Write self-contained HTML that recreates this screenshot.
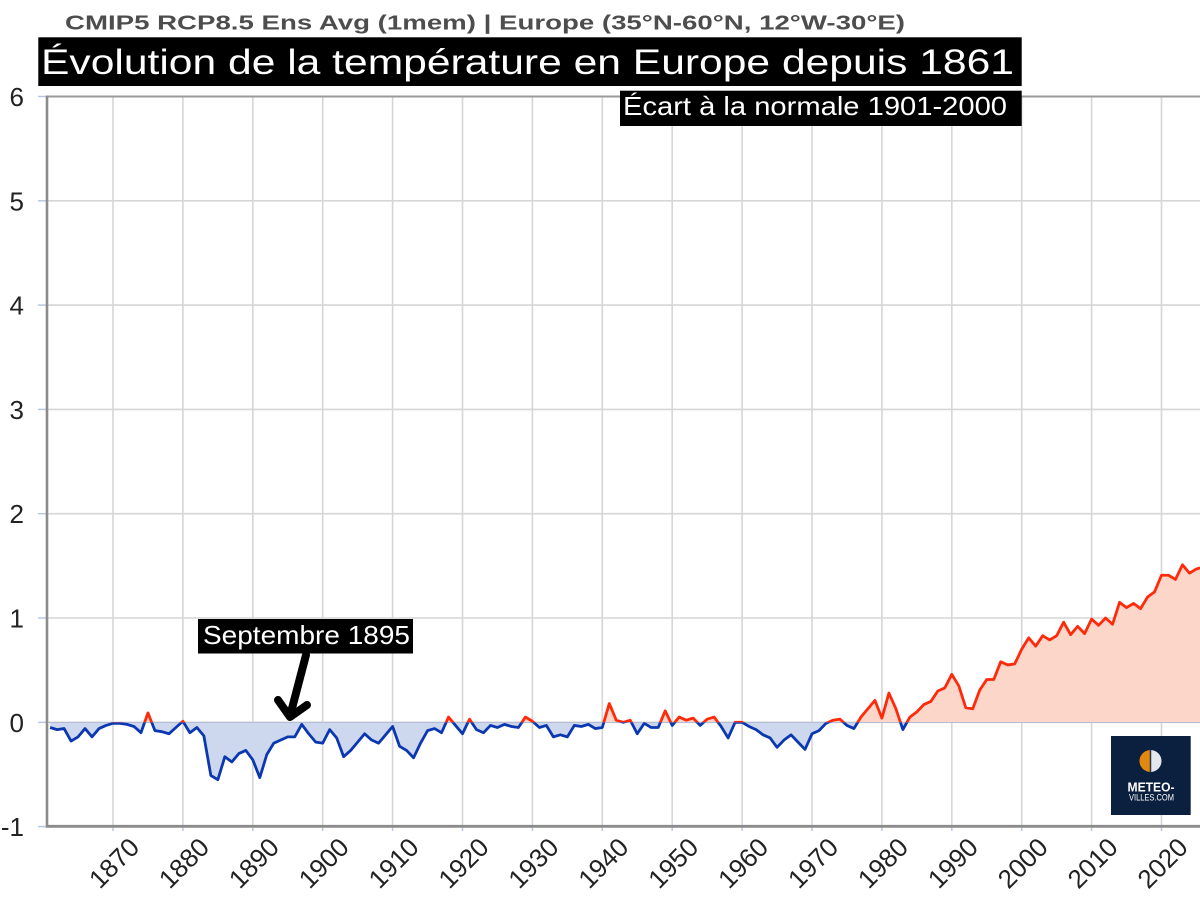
<!DOCTYPE html>
<html><head><meta charset="utf-8"><style>
html,body{margin:0;padding:0;background:#fff;}
svg{display:block;font-family:"Liberation Sans",Arial,sans-serif;}
</style></head><body>
<svg width="1200" height="909" viewBox="0 0 1200 909" xmlns="http://www.w3.org/2000/svg">
<defs>
<clipPath id="above"><rect x="0" y="0" width="1200" height="722.3"/></clipPath>
<clipPath id="below"><rect x="0" y="722.3" width="1200" height="187"/></clipPath>
<clipPath id="plot"><rect x="47" y="90" width="1153" height="740"/></clipPath>
</defs>
<rect width="1200" height="909" fill="#fff"/>
<!-- grid -->
<g stroke="#d6d6d6" stroke-width="1.6">
<line x1="113" y1="97" x2="113" y2="826"/><line x1="182.9" y1="97" x2="182.9" y2="826"/><line x1="252.8" y1="97" x2="252.8" y2="826"/><line x1="322.7" y1="97" x2="322.7" y2="826"/><line x1="392.6" y1="97" x2="392.6" y2="826"/><line x1="462.5" y1="97" x2="462.5" y2="826"/><line x1="532.4" y1="97" x2="532.4" y2="826"/><line x1="602.3" y1="97" x2="602.3" y2="826"/><line x1="672.2" y1="97" x2="672.2" y2="826"/><line x1="742.1" y1="97" x2="742.1" y2="826"/><line x1="812" y1="97" x2="812" y2="826"/><line x1="881.9" y1="97" x2="881.9" y2="826"/><line x1="951.8" y1="97" x2="951.8" y2="826"/><line x1="1021.7" y1="97" x2="1021.7" y2="826"/><line x1="1091.6" y1="97" x2="1091.6" y2="826"/><line x1="1161.5" y1="97" x2="1161.5" y2="826"/>
<line x1="47" y1="200.8" x2="1200" y2="200.8"/><line x1="47" y1="305.1" x2="1200" y2="305.1"/><line x1="47" y1="409.4" x2="1200" y2="409.4"/><line x1="47" y1="513.7" x2="1200" y2="513.7"/><line x1="47" y1="618" x2="1200" y2="618"/><line x1="47" y1="722.3" x2="1200" y2="722.3"/>
</g>
<!-- ticks -->
<g stroke="#b9c7e6" stroke-width="1.5">
<line x1="38" y1="96.5" x2="47" y2="96.5"/><line x1="38" y1="200.8" x2="47" y2="200.8"/><line x1="38" y1="305.1" x2="47" y2="305.1"/><line x1="38" y1="409.4" x2="47" y2="409.4"/><line x1="38" y1="513.7" x2="47" y2="513.7"/><line x1="38" y1="618" x2="47" y2="618"/><line x1="38" y1="722.3" x2="47" y2="722.3"/><line x1="38" y1="826.6" x2="47" y2="826.6"/>
<line x1="113" y1="826" x2="113" y2="831"/><line x1="182.9" y1="826" x2="182.9" y2="831"/><line x1="252.8" y1="826" x2="252.8" y2="831"/><line x1="322.7" y1="826" x2="322.7" y2="831"/><line x1="392.6" y1="826" x2="392.6" y2="831"/><line x1="462.5" y1="826" x2="462.5" y2="831"/><line x1="532.4" y1="826" x2="532.4" y2="831"/><line x1="602.3" y1="826" x2="602.3" y2="831"/><line x1="672.2" y1="826" x2="672.2" y2="831"/><line x1="742.1" y1="826" x2="742.1" y2="831"/><line x1="812" y1="826" x2="812" y2="831"/><line x1="881.9" y1="826" x2="881.9" y2="831"/><line x1="951.8" y1="826" x2="951.8" y2="831"/><line x1="1021.7" y1="826" x2="1021.7" y2="831"/><line x1="1091.6" y1="826" x2="1091.6" y2="831"/><line x1="1161.5" y1="826" x2="1161.5" y2="831"/>
</g>
<!-- data -->
<g clip-path="url(#plot)">
<g clip-path="url(#below)">
<g transform="matrix(6.99 0 0 -104.3 -12958.3 722.3)">
<polygon fill="#cdd8ee" points="1861,0 1861,-0.05 1862,-0.07 1863,-0.06 1864,-0.18 1865,-0.14 1866,-0.06 1867,-0.14 1868,-0.06 1869,-0.03 1870,-0.01 1871,-0.01 1872,-0.02 1873,-0.04 1874,-0.10 1875,0.09 1876,-0.08 1877,-0.09 1878,-0.11 1879,-0.05 1880,0.01 1881,-0.10 1882,-0.05 1883,-0.13 1884,-0.51 1885,-0.55 1886,-0.33 1887,-0.38 1888,-0.30 1889,-0.27 1890,-0.36 1891,-0.53 1892,-0.31 1893,-0.20 1894,-0.17 1895,-0.14 1896,-0.14 1897,-0.02 1898,-0.11 1899,-0.19 1900,-0.20 1901,-0.07 1902,-0.15 1903,-0.33 1904,-0.27 1905,-0.19 1906,-0.11 1907,-0.17 1908,-0.20 1909,-0.12 1910,-0.04 1911,-0.23 1912,-0.27 1913,-0.34 1914,-0.20 1915,-0.08 1916,-0.06 1917,-0.10 1918,0.05 1919,-0.03 1920,-0.11 1921,0.03 1922,-0.07 1923,-0.10 1924,-0.03 1925,-0.05 1926,-0.02 1927,-0.04 1928,-0.05 1929,0.05 1930,0.01 1931,-0.05 1932,-0.03 1933,-0.14 1934,-0.12 1935,-0.14 1936,-0.03 1937,-0.04 1938,-0.02 1939,-0.06 1940,-0.05 1941,0.18 1942,0.02 1943,0.00 1944,0.02 1945,-0.11 1946,-0.01 1947,-0.05 1948,-0.05 1949,0.11 1950,-0.03 1951,0.05 1952,0.02 1953,0.04 1954,-0.03 1955,0.03 1956,0.05 1957,-0.04 1958,-0.15 1959,0.00 1960,0.00 1961,-0.04 1962,-0.07 1963,-0.12 1964,-0.15 1965,-0.24 1966,-0.17 1967,-0.12 1968,-0.19 1969,-0.26 1970,-0.11 1971,-0.08 1972,-0.01 1973,0.02 1974,0.03 1975,-0.03 1976,-0.06 1977,0.05 1978,0.13 1979,0.21 1980,0.04 1981,0.28 1982,0.13 1983,-0.07 1984,0.05 1985,0.10 1986,0.17 1987,0.20 1988,0.30 1989,0.33 1990,0.46 1991,0.35 1992,0.14 1993,0.13 1994,0.31 1995,0.41 1996,0.41 1997,0.58 1998,0.55 1999,0.56 2000,0.70 2001,0.81 2002,0.73 2003,0.83 2004,0.79 2005,0.83 2006,0.96 2007,0.84 2008,0.92 2009,0.85 2010,0.99 2011,0.93 2012,1.00 2013,0.94 2014,1.15 2015,1.10 2016,1.14 2017,1.09 2018,1.20 2019,1.25 2020,1.41 2021,1.41 2022,1.37 2023,1.51 2024,1.43 2025,1.47 2026,1.49 2026,0"/>
</g>
<line x1="47" y1="722.3" x2="1200" y2="722.3" stroke="#9fb0d6" stroke-width="1.5"/>
<g transform="matrix(6.99 0 0 -104.3 -12958.3 722.3)">
<polyline fill="none" stroke="#0b38b0" stroke-width="2.8" stroke-linejoin="round" vector-effect="non-scaling-stroke" points="1861,-0.05 1862,-0.07 1863,-0.06 1864,-0.18 1865,-0.14 1866,-0.06 1867,-0.14 1868,-0.06 1869,-0.03 1870,-0.01 1871,-0.01 1872,-0.02 1873,-0.04 1874,-0.10 1875,0.09 1876,-0.08 1877,-0.09 1878,-0.11 1879,-0.05 1880,0.01 1881,-0.10 1882,-0.05 1883,-0.13 1884,-0.51 1885,-0.55 1886,-0.33 1887,-0.38 1888,-0.30 1889,-0.27 1890,-0.36 1891,-0.53 1892,-0.31 1893,-0.20 1894,-0.17 1895,-0.14 1896,-0.14 1897,-0.02 1898,-0.11 1899,-0.19 1900,-0.20 1901,-0.07 1902,-0.15 1903,-0.33 1904,-0.27 1905,-0.19 1906,-0.11 1907,-0.17 1908,-0.20 1909,-0.12 1910,-0.04 1911,-0.23 1912,-0.27 1913,-0.34 1914,-0.20 1915,-0.08 1916,-0.06 1917,-0.10 1918,0.05 1919,-0.03 1920,-0.11 1921,0.03 1922,-0.07 1923,-0.10 1924,-0.03 1925,-0.05 1926,-0.02 1927,-0.04 1928,-0.05 1929,0.05 1930,0.01 1931,-0.05 1932,-0.03 1933,-0.14 1934,-0.12 1935,-0.14 1936,-0.03 1937,-0.04 1938,-0.02 1939,-0.06 1940,-0.05 1941,0.18 1942,0.02 1943,0.00 1944,0.02 1945,-0.11 1946,-0.01 1947,-0.05 1948,-0.05 1949,0.11 1950,-0.03 1951,0.05 1952,0.02 1953,0.04 1954,-0.03 1955,0.03 1956,0.05 1957,-0.04 1958,-0.15 1959,0.00 1960,0.00 1961,-0.04 1962,-0.07 1963,-0.12 1964,-0.15 1965,-0.24 1966,-0.17 1967,-0.12 1968,-0.19 1969,-0.26 1970,-0.11 1971,-0.08 1972,-0.01 1973,0.02 1974,0.03 1975,-0.03 1976,-0.06 1977,0.05 1978,0.13 1979,0.21 1980,0.04 1981,0.28 1982,0.13 1983,-0.07 1984,0.05 1985,0.10 1986,0.17 1987,0.20 1988,0.30 1989,0.33 1990,0.46 1991,0.35 1992,0.14 1993,0.13 1994,0.31 1995,0.41 1996,0.41 1997,0.58 1998,0.55 1999,0.56 2000,0.70 2001,0.81 2002,0.73 2003,0.83 2004,0.79 2005,0.83 2006,0.96 2007,0.84 2008,0.92 2009,0.85 2010,0.99 2011,0.93 2012,1.00 2013,0.94 2014,1.15 2015,1.10 2016,1.14 2017,1.09 2018,1.20 2019,1.25 2020,1.41 2021,1.41 2022,1.37 2023,1.51 2024,1.43 2025,1.47 2026,1.49"/>
</g>
</g>
<g clip-path="url(#above)">
<g transform="matrix(6.99 0 0 -104.3 -12958.3 722.3)">
<polygon fill="#fdd6ca" points="1861,0 1861,-0.05 1862,-0.07 1863,-0.06 1864,-0.18 1865,-0.14 1866,-0.06 1867,-0.14 1868,-0.06 1869,-0.03 1870,-0.01 1871,-0.01 1872,-0.02 1873,-0.04 1874,-0.10 1875,0.09 1876,-0.08 1877,-0.09 1878,-0.11 1879,-0.05 1880,0.01 1881,-0.10 1882,-0.05 1883,-0.13 1884,-0.51 1885,-0.55 1886,-0.33 1887,-0.38 1888,-0.30 1889,-0.27 1890,-0.36 1891,-0.53 1892,-0.31 1893,-0.20 1894,-0.17 1895,-0.14 1896,-0.14 1897,-0.02 1898,-0.11 1899,-0.19 1900,-0.20 1901,-0.07 1902,-0.15 1903,-0.33 1904,-0.27 1905,-0.19 1906,-0.11 1907,-0.17 1908,-0.20 1909,-0.12 1910,-0.04 1911,-0.23 1912,-0.27 1913,-0.34 1914,-0.20 1915,-0.08 1916,-0.06 1917,-0.10 1918,0.05 1919,-0.03 1920,-0.11 1921,0.03 1922,-0.07 1923,-0.10 1924,-0.03 1925,-0.05 1926,-0.02 1927,-0.04 1928,-0.05 1929,0.05 1930,0.01 1931,-0.05 1932,-0.03 1933,-0.14 1934,-0.12 1935,-0.14 1936,-0.03 1937,-0.04 1938,-0.02 1939,-0.06 1940,-0.05 1941,0.18 1942,0.02 1943,0.00 1944,0.02 1945,-0.11 1946,-0.01 1947,-0.05 1948,-0.05 1949,0.11 1950,-0.03 1951,0.05 1952,0.02 1953,0.04 1954,-0.03 1955,0.03 1956,0.05 1957,-0.04 1958,-0.15 1959,0.00 1960,0.00 1961,-0.04 1962,-0.07 1963,-0.12 1964,-0.15 1965,-0.24 1966,-0.17 1967,-0.12 1968,-0.19 1969,-0.26 1970,-0.11 1971,-0.08 1972,-0.01 1973,0.02 1974,0.03 1975,-0.03 1976,-0.06 1977,0.05 1978,0.13 1979,0.21 1980,0.04 1981,0.28 1982,0.13 1983,-0.07 1984,0.05 1985,0.10 1986,0.17 1987,0.20 1988,0.30 1989,0.33 1990,0.46 1991,0.35 1992,0.14 1993,0.13 1994,0.31 1995,0.41 1996,0.41 1997,0.58 1998,0.55 1999,0.56 2000,0.70 2001,0.81 2002,0.73 2003,0.83 2004,0.79 2005,0.83 2006,0.96 2007,0.84 2008,0.92 2009,0.85 2010,0.99 2011,0.93 2012,1.00 2013,0.94 2014,1.15 2015,1.10 2016,1.14 2017,1.09 2018,1.20 2019,1.25 2020,1.41 2021,1.41 2022,1.37 2023,1.51 2024,1.43 2025,1.47 2026,1.49 2026,0"/>
<polyline fill="none" stroke="#ff2a0a" stroke-width="2.8" stroke-linejoin="round" vector-effect="non-scaling-stroke" points="1861,-0.05 1862,-0.07 1863,-0.06 1864,-0.18 1865,-0.14 1866,-0.06 1867,-0.14 1868,-0.06 1869,-0.03 1870,-0.01 1871,-0.01 1872,-0.02 1873,-0.04 1874,-0.10 1875,0.09 1876,-0.08 1877,-0.09 1878,-0.11 1879,-0.05 1880,0.01 1881,-0.10 1882,-0.05 1883,-0.13 1884,-0.51 1885,-0.55 1886,-0.33 1887,-0.38 1888,-0.30 1889,-0.27 1890,-0.36 1891,-0.53 1892,-0.31 1893,-0.20 1894,-0.17 1895,-0.14 1896,-0.14 1897,-0.02 1898,-0.11 1899,-0.19 1900,-0.20 1901,-0.07 1902,-0.15 1903,-0.33 1904,-0.27 1905,-0.19 1906,-0.11 1907,-0.17 1908,-0.20 1909,-0.12 1910,-0.04 1911,-0.23 1912,-0.27 1913,-0.34 1914,-0.20 1915,-0.08 1916,-0.06 1917,-0.10 1918,0.05 1919,-0.03 1920,-0.11 1921,0.03 1922,-0.07 1923,-0.10 1924,-0.03 1925,-0.05 1926,-0.02 1927,-0.04 1928,-0.05 1929,0.05 1930,0.01 1931,-0.05 1932,-0.03 1933,-0.14 1934,-0.12 1935,-0.14 1936,-0.03 1937,-0.04 1938,-0.02 1939,-0.06 1940,-0.05 1941,0.18 1942,0.02 1943,0.00 1944,0.02 1945,-0.11 1946,-0.01 1947,-0.05 1948,-0.05 1949,0.11 1950,-0.03 1951,0.05 1952,0.02 1953,0.04 1954,-0.03 1955,0.03 1956,0.05 1957,-0.04 1958,-0.15 1959,0.00 1960,0.00 1961,-0.04 1962,-0.07 1963,-0.12 1964,-0.15 1965,-0.24 1966,-0.17 1967,-0.12 1968,-0.19 1969,-0.26 1970,-0.11 1971,-0.08 1972,-0.01 1973,0.02 1974,0.03 1975,-0.03 1976,-0.06 1977,0.05 1978,0.13 1979,0.21 1980,0.04 1981,0.28 1982,0.13 1983,-0.07 1984,0.05 1985,0.10 1986,0.17 1987,0.20 1988,0.30 1989,0.33 1990,0.46 1991,0.35 1992,0.14 1993,0.13 1994,0.31 1995,0.41 1996,0.41 1997,0.58 1998,0.55 1999,0.56 2000,0.70 2001,0.81 2002,0.73 2003,0.83 2004,0.79 2005,0.83 2006,0.96 2007,0.84 2008,0.92 2009,0.85 2010,0.99 2011,0.93 2012,1.00 2013,0.94 2014,1.15 2015,1.10 2016,1.14 2017,1.09 2018,1.20 2019,1.25 2020,1.41 2021,1.41 2022,1.37 2023,1.51 2024,1.43 2025,1.47 2026,1.49"/>
</g>
</g>
</g>
<!-- frame/axes -->
<line x1="46" y1="96.5" x2="1200" y2="96.5" stroke="#9a9a9a" stroke-width="2"/>
<line x1="47" y1="95.5" x2="47" y2="827.5" stroke="#8c8c8c" stroke-width="2.6"/>
<line x1="46" y1="826.3" x2="1200" y2="826.3" stroke="#8c8c8c" stroke-width="2.8"/>
<!-- y labels -->
<g font-size="26" fill="#222" text-anchor="end" dominant-baseline="central">
<text x="24" y="97">6</text><text x="24" y="201.3">5</text><text x="24" y="305.6">4</text><text x="24" y="409.9">3</text><text x="24" y="514.2">2</text><text x="24" y="618.5">1</text><text x="24" y="722.8">0</text><text x="24" y="827.1">-1</text>
</g>
<!-- x labels -->
<g font-size="26" fill="#222" text-anchor="middle" dominant-baseline="central">
<text x="114" y="863" transform="rotate(-45 114 863)">1870</text>
<text x="183.9" y="863" transform="rotate(-45 183.9 863)">1880</text>
<text x="253.8" y="863" transform="rotate(-45 253.8 863)">1890</text>
<text x="323.7" y="863" transform="rotate(-45 323.7 863)">1900</text>
<text x="393.6" y="863" transform="rotate(-45 393.6 863)">1910</text>
<text x="463.5" y="863" transform="rotate(-45 463.5 863)">1920</text>
<text x="533.4" y="863" transform="rotate(-45 533.4 863)">1930</text>
<text x="603.3" y="863" transform="rotate(-45 603.3 863)">1940</text>
<text x="673.2" y="863" transform="rotate(-45 673.2 863)">1950</text>
<text x="743.1" y="863" transform="rotate(-45 743.1 863)">1960</text>
<text x="813" y="863" transform="rotate(-45 813 863)">1970</text>
<text x="882.9" y="863" transform="rotate(-45 882.9 863)">1980</text>
<text x="952.8" y="863" transform="rotate(-45 952.8 863)">1990</text>
<text x="1022.7" y="863" transform="rotate(-45 1022.7 863)">2000</text>
<text x="1092.6" y="863" transform="rotate(-45 1092.6 863)">2010</text>
<text x="1162.5" y="863" transform="rotate(-45 1162.5 863)">2020</text>
</g>
<!-- subtitle & title -->
<text x="65" y="29.3" font-size="20" font-weight="bold" fill="#4d4d4d" textLength="840" lengthAdjust="spacingAndGlyphs">CMIP5 RCP8.5 Ens Avg (1mem) | Europe (35°N-60°N, 12°W-30°E)</text>
<rect x="38.3" y="37.3" width="983.4" height="48.7" fill="#000"/>
<text x="41" y="74" font-size="35" fill="#fff" textLength="973" lengthAdjust="spacingAndGlyphs">Évolution de la température en Europe depuis 1861</text>
<rect x="620" y="90.7" width="401.7" height="35.3" fill="#000"/>
<text x="623" y="115" font-size="26" fill="#fff" textLength="384" lengthAdjust="spacingAndGlyphs">Écart à la normale 1901-2000</text>
<!-- annotation -->
<rect x="198" y="619" width="215" height="34.5" fill="#000"/>
<text x="203" y="644" font-size="26" fill="#fff" textLength="207" lengthAdjust="spacingAndGlyphs">Septembre 1895</text>
<g stroke="#000" stroke-width="8" stroke-linecap="round" stroke-linejoin="round" fill="none">
<line x1="306" y1="655" x2="290" y2="716"/>
<polyline points="278,700 290,717 307,705"/>
</g>
<!-- logo -->
<rect x="1111" y="736" width="79.7" height="79" fill="#0b1f3f"/>
<path d="M1150.5,750 A11,11 0 0 0 1150.5,772 Z" fill="#e0880f"/>
<path d="M1150.5,750 A11,11 0 0 1 1150.5,772 Z" fill="#e4e7ee"/>
<line x1="1150.5" y1="749.5" x2="1150.5" y2="772.5" stroke="#2a3550" stroke-width="1.5"/>
<text x="1151" y="791.7" font-size="12.5" font-weight="bold" fill="#fff" text-anchor="middle" textLength="47" lengthAdjust="spacingAndGlyphs">METEO-</text>
<text x="1151.5" y="800.5" font-size="8.8" fill="#fff" text-anchor="middle" textLength="45" lengthAdjust="spacingAndGlyphs">VILLES.COM</text>
</svg>
</body></html>
